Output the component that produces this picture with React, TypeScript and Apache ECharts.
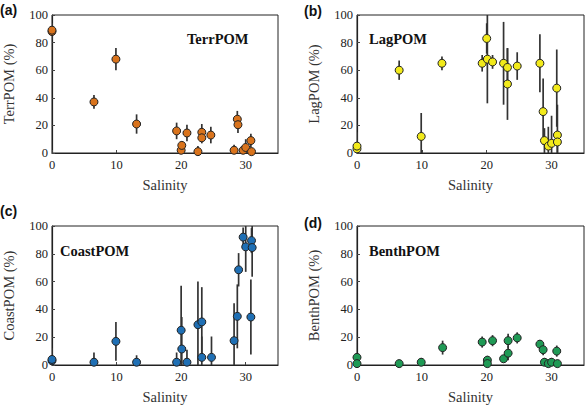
import React, { useEffect, useRef } from "react";
import * as echarts from "echarts";

// Salinity (x) per panel
const terrSal = [0, 0, 6.5, 9.9, 13.1, 19.3, 20.0, 20.1, 20.9, 22.6, 23.2, 23.2, 24.6, 28.2, 28.7, 28.8, 29.6, 30.0, 30.8, 30.9];
const terrVal = [88, 89, 37, 68, 21, 16, 2, 5.5, 14.5, 1, 15, 11, 13, 2, 24.5, 20.5, 2, 4, 9, 1];
const terrErr = [6, 5, 5, 8, 7, 6, 3, 3, 6, 4, 6, 4, 6, 4, 6, 6, 2, 6, 5, 2];

const lagSal = [0, 0, 6.5, 9.9, 13.1, 19.3, 20.0, 20.1, 20.9, 22.6, 23.2, 23.2, 24.7, 28.2, 28.7, 28.9, 29.5, 30.0, 30.8, 30.9, 30.9];
const lagVal = [3, 5, 60, 12, 65, 65, 83, 68, 66, 65, 62, 50, 63, 65, 30, 9, 5, 7, 47, 13, 8];
const lagErr = [3, 10, 7, 17, 5, 6, 11, 32, 5, 30, 14, 26, 10, 21, 24, 9, 14, 20, 28, 22, 8];

const coastSal = [0, 0, 6.5, 9.9, 13.1, 19.3, 20.0, 20.1, 20.9, 22.6, 23.2, 23.2, 24.7, 28.2, 28.7, 28.9, 29.6, 30.0, 30.8, 30.9, 31.0];
const coastVal = [3, 4, 2, 17, 2, 2, 25, 11.5, 2, 29, 31, 5.5, 5.5, 17.5, 35, 68.5, 92, 85, 34.5, 89.5, 84.5];
const coastErr = [9, 3, 7, 14, 5, 7, 32, 23, 9, 31, 25, 15, 15, 27, 23, 12, 7, 18, 27, 9, 21];

const benthSal = [0, 0, 6.5, 9.9, 13.2, 19.3, 20.1, 20.1, 20.9, 22.6, 23.3, 23.3, 24.7, 28.2, 28.7, 28.9, 29.5, 30.0, 30.8, 30.9];
const benthVal = [5.5, 1, 1, 2, 12.5, 16.5, 3.5, 1, 17.5, 4.5, 8.5, 17.5, 19.5, 15, 11, 2, 1, 2, 10, 1];
const benthErr = [3, 1, 1, 3, 5, 4, 3, 1, 4, 2, 5, 5, 4, 3, 4, 3, 1, 3, 4, 1];

const panelNames = ["TerrPOM", "LagPOM", "CoastPOM", "BenthPOM"];
const panelLetters = ["(a)", "(b)", "(c)", "(d)"];
const yAxisNames = ["TerrPOM (%)", "LagPOM (%)", "CoastPOM (%)", "BenthPOM (%)"];
const xAxisName = "Salinity";
const colors = ["#d9731c", "#f2ea1a", "#1f6fb4", "#1f9a55"];

const SERIF = "'Liberation Serif', 'Times New Roman', serif";
const SANS = "'Liberation Sans', Arial, sans-serif";

export default function App() {
  const ref = useRef<HTMLDivElement>(null);

  useEffect(() => {
    if (!ref.current) return;
    const chart = echarts.init(ref.current, null, { renderer: "svg" });

    const sets = [
      [terrSal, terrVal, terrErr],
      [lagSal, lagVal, lagErr],
      [coastSal, coastVal, coastErr],
      [benthSal, benthVal, benthErr],
    ];

    const grids = [
      { left: 51, top: 15, width: 227, height: 138 },
      { left: 357, top: 15, width: 227, height: 138 },
      { left: 51, top: 226, width: 227, height: 139 },
      { left: 357, top: 226, width: 227, height: 139 },
    ].map((g) => ({ ...g, show: true, borderColor: "#222", borderWidth: 1, backgroundColor: "transparent" }));

    const xAxes = grids.map((_, i) => ({
      type: "value",
      gridIndex: i,
      min: 0,
      max: 35,
      interval: 10,
      name: xAxisName,
      nameLocation: "middle",
      nameGap: 24,
      nameTextStyle: { fontFamily: SERIF, fontSize: 14.5, color: "#333" },
      axisLine: { show: true, lineStyle: { color: "#222", width: 1.2 } },
      axisTick: { show: true, inside: true, length: 3, lineStyle: { color: "#444" } },
      axisLabel: { fontFamily: SERIF, fontSize: 12.5, color: "#222", margin: 5, showMaxLabel: false },
      splitLine: { show: false },
    }));

    const yAxes = grids.map((_, i) => ({
      type: "value",
      gridIndex: i,
      min: 0,
      max: 100,
      interval: 20,
      name: yAxisNames[i],
      nameLocation: "middle",
      nameGap: 36,
      nameRotate: 90,
      nameTextStyle: { fontFamily: SERIF, fontSize: 14.5, color: "#333" },
      axisLine: { show: true, lineStyle: { color: "#222", width: 1.2 } },
      axisTick: { show: true, inside: true, length: 3, lineStyle: { color: "#444" } },
      axisLabel: { fontFamily: SERIF, fontSize: 12.5, color: "#222", margin: 4 },
      splitLine: { show: false },
    }));

    const series: any[] = [];
    sets.forEach(([sal, val, err], i) => {
      const data = sal.map((s, k) => [s, val[k], err[k]]);
      series.push({
        type: "custom",
        xAxisIndex: i,
        yAxisIndex: i,
        clip: true,
        z: 2,
        encode: { x: 0, y: 1 },
        data,
        renderItem: (params: any, api: any) => {
          const x = api.value(0);
          const y = api.value(1);
          const e = api.value(2);
          const p1 = api.coord([x, y - e]);
          const p2 = api.coord([x, y + e]);
          return {
            type: "line",
            shape: { x1: p1[0], y1: p1[1], x2: p2[0], y2: p2[1] },
            style: { stroke: "#333", lineWidth: 1.7 },
          };
        },
      });
      series.push({
        type: "scatter",
        xAxisIndex: i,
        yAxisIndex: i,
        z: 3,
        symbol: "circle",
        symbolSize: 8,
        data: data.map((d) => [d[0], d[1]]),
        itemStyle: { color: colors[i], borderColor: "#222", borderWidth: 1, opacity: 1 },
      });
    });

    const labelPos = [
      { x: 187, y: 39 },
      { x: 369, y: 39 },
      { x: 60, y: 250.5 },
      { x: 369, y: 250.5 },
    ];
    const letterPos = [
      { x: 0, y: 10 },
      { x: 304, y: 11 },
      { x: 0, y: 210.5 },
      { x: 304, y: 223 },
    ];

    const graphic: any[] = [];
    panelNames.forEach((n, i) => {
      graphic.push({
        type: "text",
        x: labelPos[i].x,
        y: labelPos[i].y,
        style: {
          text: n,
          font: `bold 14.5px ${SERIF}`,
          fill: "#111",
          textVerticalAlign: "middle",
          verticalAlign: "middle",
        },
      });
      graphic.push({
        type: "text",
        x: letterPos[i].x,
        y: letterPos[i].y,
        style: {
          text: panelLetters[i],
          font: `bold 14px ${SANS}`,
          fill: "#111",
          textVerticalAlign: "middle",
          verticalAlign: "middle",
        },
      });
    });

    chart.setOption({
      animation: false,
      backgroundColor: "#fff",
      grid: grids,
      xAxis: xAxes,
      yAxis: yAxes,
      series,
      graphic,
    });

    return () => chart.dispose();
  }, []);

  return (
    <div
      ref={ref}
      style={{ position: "absolute", left: 0, top: 0, width: 587, height: 406 }}
    />
  );
}
